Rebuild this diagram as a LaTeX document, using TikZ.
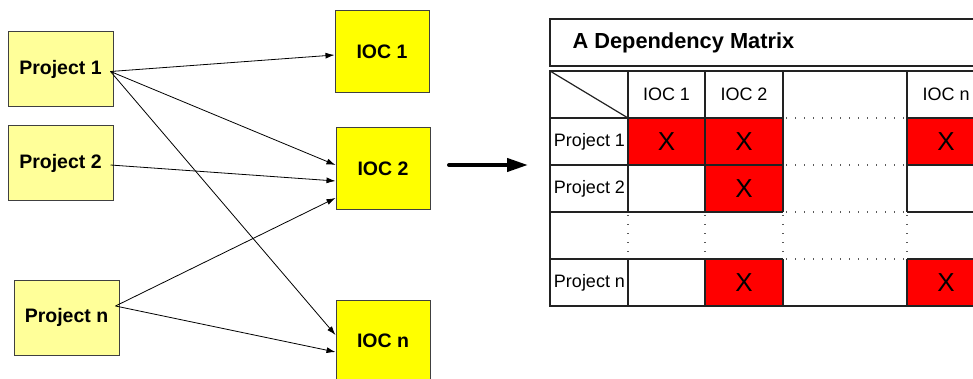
\documentclass[tikz,border=0pt]{standalone}
\usepackage{fontspec}
\setmainfont{Liberation Sans}
\usepackage{tikz}
\usetikzlibrary{arrows.meta,positioning,calc}
\definecolor{projyellow}{HTML}{FFFF99}
\definecolor{iocyellow}{HTML}{FFFF00}
\definecolor{depred}{HTML}{FF0000}
\definecolor{boxgray}{HTML}{404040}
\definecolor{linegray}{HTML}{222222}

\begin{document}
\begin{tikzpicture}[x=1pt,y=-1pt,
  projbox/.style={rectangle,draw=boxgray,line width=1pt,fill=projyellow,minimum width=105pt,minimum height=75pt,inner sep=0pt,font=\fontsize{19.5pt}{22pt}\selectfont\bfseries},
  iocbox/.style={rectangle,draw=boxgray,line width=1pt,fill=iocyellow,minimum width=94pt,minimum height=82pt,inner sep=0pt,font=\fontsize{19.5pt}{22pt}\selectfont\bfseries},
  dep/.style={-{Latex[length=9pt,width=6pt]},line width=0.8pt},
  gridline/.style={linegray,line width=1.2pt},
  dots/.style={black!65,line width=1.4pt,dash pattern=on 1.3pt off 7.7pt},
  cell/.style={font=\fontsize{18pt}{20pt}\selectfont},
  xmark/.style={font=\fontsize{26pt}{28pt}\selectfont}]
  \path[use as bounding box] (0,0) rectangle (973,379);
  \clip (0,0) rectangle (973,379);
  % projects and IOCs
  \node[projbox] (p1) at (60.5,69.5) {Project 1};
  \node[projbox] (p2) at (60.5,163.5) {Project 2};
  \node[projbox] (pn) at (66.5,317.5) {Project n};
  \node[iocbox] (ioc1) at (382,52) {IOC 1};
  \node[iocbox] (ioc2) at (383,168.5) {IOC 2};
  \node[iocbox] (iocn) at (383,341) {IOC n};
  \coordinate (p1out) at ([shift={(-3pt,-2pt)}]p1.east);
  \coordinate (p2out) at ([shift={(-3pt,-1.5pt)}]p2.east);
  \coordinate (pnout) at ([shift={(-4pt,11.5pt)}]pn.east);
  \draw[dep] (p1out) -- ([yshift=-3pt]ioc1.west);
  \draw[dep] (p1out) -- ([yshift=3.5pt]ioc2.west);
  \draw[dep] (p1out) -- ([yshift=6pt]iocn.west);
  \draw[dep] (p2out) -- ([yshift=-12.5pt]ioc2.west);
  \draw[dep] (pnout) -- ([yshift=-29.5pt]ioc2.west);
  \draw[dep] (pnout) -- ([yshift=-11pt]iocn.west);
  % big arrow
  \coordinate (arrs) at (449,165);
  \coordinate (arre) at (528,165);
  \draw[line width=4pt,line cap=round,-{Triangle[length=21pt,width=13pt]}] (arrs) -- (arre);
  % matrix
  \draw[draw=linegray,line width=1.2pt] (550,19) rectangle (990,66);
  \node[anchor=base west,font=\fontsize{21.8pt}{24pt}\selectfont\bfseries] (title) at (569,49) {A Dependency Matrix};
  \foreach \xa/\xb/\ya/\yb in {628/705/118/165,705/783/118/165,907/985/118/165,705/783/165/212,705/783/259/306,907/985/259/306}{
    \fill[depred] (\xa,\ya) rectangle (\xb,\yb);
    \node[xmark] (x-\xa-\ya) at ({(\xa+\xb)/2},{(\ya+\yb)/2}) {X};
  }
  \foreach \y in {118,165,212,259}{
    \draw[gridline] (550,\y) -- (783,\y);
    \draw[gridline] (907,\y) -- (985,\y);
    \draw[dots] (786,\y) -- (907,\y);
  }
  \foreach \x in {628,705,783,907}{
    \draw[gridline] (\x,71) -- (\x,212);
    \draw[gridline] (\x,259) -- (\x,306);
    \draw[dots] (\x,215) -- (\x,259);
  }
  \draw[gridline] (985,71) -- (550,71) -- (550,306) -- (985,306);
  \draw[gridline] (550,71) -- (628,118);
  \foreach \xa/\xb/\t/\n in {628/705/IOC 1/h1,705/783/IOC 2/h2,907/985/IOC n/hn}
    \node[cell] (\n) at ({(\xa+\xb)/2},94) {\t};
  \foreach \y/\t/\n in {141.5/Project 1/r1,188.5/Project 2/r2,282.5/Project n/rn}
    \node[cell] (\n) at (589.5,\y) {\t};
\end{tikzpicture}
\end{document}
